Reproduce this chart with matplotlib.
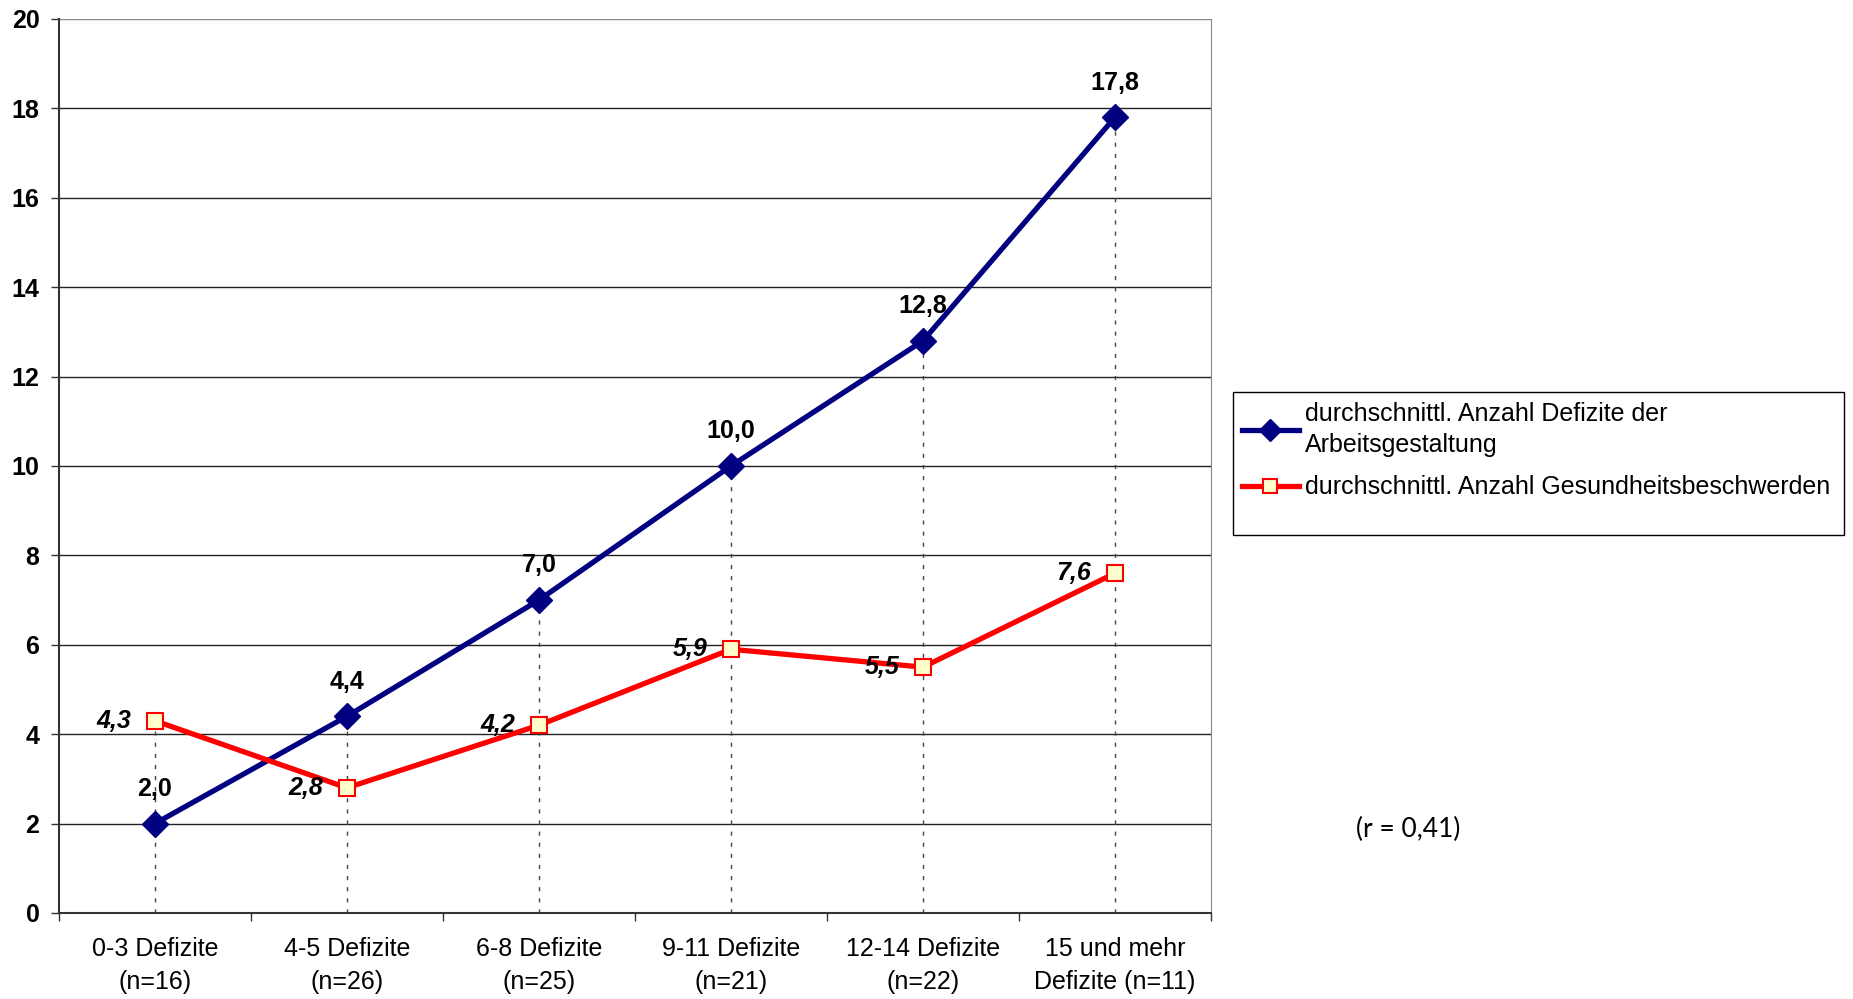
import matplotlib
matplotlib.use("Agg")
import matplotlib.pyplot as plt
from matplotlib.patches import Rectangle
from matplotlib.lines import Line2D

plt.rcParams["font.family"] = ["Liberation Sans", "DejaVu Sans"]

# ── Daten ─────────────────────────────────────────────
categories = ["0-3 Defizite\n(n=16)", "4-5 Defizite\n(n=26)", "6-8 Defizite\n(n=25)",
              "9-11 Defizite\n(n=21)", "12-14 Defizite\n(n=22)", "15 und mehr\nDefizite (n=11)"]
defizite = [2.0, 4.4, 7.0, 10.0, 12.8, 17.8]
beschwerden = [4.3, 2.8, 4.2, 5.9, 5.5, 7.6]
yticks = [0, 2, 4, 6, 8, 10, 12, 14, 16, 18, 20]
label_blue = "durchschnittl. Anzahl Defizite der\nArbeitsgestaltung"
label_red = "durchschnittl. Anzahl Gesundheitsbeschwerden"
corr_text = "(r = 0,41)"

NAVY = "#000080"
RED = "#FF0000"
CREAM = "#FFFFCC"

fig = plt.figure(figsize=(18.53, 9.99), dpi=100)
ax = fig.add_axes([0.0318, 0.0861, 0.6217, 0.8949])

x = list(range(len(categories)))

# Gitterlinien
for v in yticks[1:]:
    ax.axhline(v, color="#888888" if v == 20 else "#222222", lw=1.0, zorder=0)

# Lotlinien vom jeweils höchsten Punkt
for xi, a, b in zip(x, defizite, beschwerden):
    ax.plot([xi, xi], [0, max(a, b)], color="#444444", lw=1.0,
            dashes=(3, 5), zorder=1)

ax.plot(x, defizite, color=NAVY, lw=3.8, marker="D", markersize=13,
        markerfacecolor=NAVY, markeredgecolor=NAVY, zorder=3)
ax.plot(x, beschwerden, color=RED, lw=3.8, marker="s", markersize=12,
        markerfacecolor=CREAM, markeredgecolor=RED, markeredgewidth=1.5, zorder=4)

for xi, v in zip(x, defizite):
    ax.annotate(f"{v:.1f}".replace(".", ","), (xi, v), xytext=(0, 20),
                textcoords="offset points", ha="center", va="baseline",
                fontsize=18, fontweight="bold", zorder=5)
for xi, v in zip(x, beschwerden):
    ax.annotate(f"{v:.1f}".replace(".", ","), (xi, v), xytext=(-17, 0),
                textcoords="offset points", ha="right", va="center",
                fontsize=18, fontweight="bold", fontstyle="italic", zorder=5)

ax.set_xlim(-0.5, len(categories) - 0.5)
ax.set_ylim(0, 20)
ax.set_yticks(yticks)
ax.set_yticklabels([str(t) for t in yticks], fontsize=18, fontweight="bold")
ax.tick_params(axis="y", length=6, width=1, color="#333333", pad=8)

ax.set_xticks([i - 0.5 for i in range(len(categories) + 1)])
ax.set_xticklabels([])
ax.set_xticks(x, minor=True)
ax.set_xticklabels(categories, minor=True, fontsize=18, linespacing=1.5)
ax.tick_params(axis="x", which="major", length=6, width=1, color="#333333")
ax.tick_params(axis="x", which="minor", length=0, pad=17)

for side in ["left", "bottom"]:
    ax.spines[side].set_color("#333333")
    ax.spines[side].set_linewidth(1.5)
ax.spines["right"].set_color("#888888")
ax.spines["top"].set_visible(False)

# Legende mit eigenem Rahmen
fig.patches.append(Rectangle((0.6653, 0.4645), 0.3297, 0.1431, transform=fig.transFigure,
                             fill=False, edgecolor="black", lw=1.0))
handles = [
    Line2D([], [], color=NAVY, lw=3.8, marker="D", markersize=11,
           markerfacecolor=NAVY, markeredgecolor=NAVY),
    Line2D([], [], color=RED, lw=3.8, marker="s", markersize=10,
           markerfacecolor=CREAM, markeredgecolor=RED, markeredgewidth=1.5),
]
leg = fig.legend(handles, [label_blue, label_red], loc="upper left",
                 bbox_to_anchor=(0.670, 0.5975), frameon=False, fontsize=18,
                 handlelength=2.3, handletextpad=0.25, labelspacing=0.75,
                 borderaxespad=0, borderpad=0)
for t in leg.get_texts():
    t.set_linespacing(1.35)

fig.text(0.760, 0.170, corr_text, fontsize=19, family=["Lato", "DejaVu Sans"],
         ha="center", va="center")

fig.savefig("out.png", dpi=100)
